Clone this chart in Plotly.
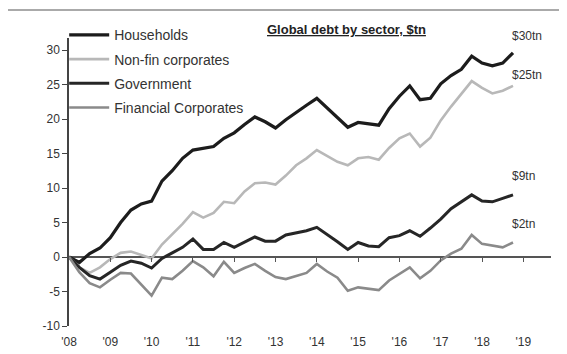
import plotly.graph_objects as go

# Quarterly points, 2008Q1 .. 2018Q4 (decimal years)
quarters = [2008 + i / 4 for i in range(44)]

households = [0, -0.8, 0.5, 1.3, 2.8, 5.0, 6.8, 7.7, 8.1, 11.0, 12.5, 14.3,
              15.5, 15.7, 16.0, 17.2, 18.0, 19.2, 20.3, 19.6, 18.7, 19.9, 21.0, 22.0,
              23.0, 21.6, 20.2, 18.8, 19.5, 19.3, 19.1, 21.5, 23.3, 24.8, 22.8, 23.0,
              25.1, 26.3, 27.2, 29.1, 28.1, 27.7, 28.1, 29.6]
nonfin_corporates = [0, -1.5, -2.3, -1.5, -0.3, 0.6, 0.8, 0.3, -0.2, 1.8, 3.3, 4.8,
                     6.5, 5.7, 6.4, 8.0, 7.8, 9.5, 10.7, 10.8, 10.5, 11.8, 13.3, 14.3,
                     15.5, 14.7, 13.8, 13.3, 14.3, 14.5, 14.1, 15.8, 17.2, 17.9, 16.0, 17.3,
                     19.8, 21.8, 23.7, 25.5, 24.5, 23.7, 24.1, 24.8]
government = [0, -1.5, -2.7, -3.2, -2.2, -1.2, -0.6, -0.9, -1.6, -0.2, 0.6, 1.4,
              2.6, 1.1, 1.1, 2.1, 1.4, 2.2, 2.9, 2.3, 2.3, 3.2, 3.5, 3.8,
              4.3, 3.3, 2.2, 1.1, 2.1, 1.6, 1.5, 2.8, 3.1, 3.8, 3.0, 4.2,
              5.5, 7.0, 8.0, 9.0, 8.1, 8.0, 8.5, 9.0]
financial_corporates = [0, -2.2, -3.8, -4.4, -3.3, -2.3, -2.4, -4.0, -5.6, -3.0, -3.2, -2.0,
                        -0.6, -1.5, -2.8, -0.7, -2.3, -1.6, -1.0, -2.0, -2.9, -3.2, -2.8, -2.3,
                        -1.0, -2.1, -3.0, -4.9, -4.4, -4.6, -4.8, -3.4, -2.4, -1.5, -3.1, -2.0,
                        -0.5, 0.5, 1.2, 3.2, 1.9, 1.6, 1.4, 2.1]

series_names = ["Households", "Non-fin corporates", "Government", "Financial Corporates"]
series_values = [households, nonfin_corporates, government, financial_corporates]
end_labels = ["$30tn", "$25tn", "$9tn", "$2tn"]

year_ticks = list(range(2008, 2020))
year_labels = ["'08", "'09", "'10", "'11", "'12", "'13", "'14", "'15", "'16", "'17", "'18", "'19"]
y_ticks = [-10, -5, 0, 5, 10, 15, 20, 25, 30]
y_labels = ["-10", "-5", "0", "5", "10", "15", "20", "25", "30"]

colors = ["#1c1c1c", "#b8b8b8", "#262626", "#8a8a8a"]
widths = [3.2, 2.6, 3.0, 2.6]

X_RANGE = [2008, 2019.67]
Y_RANGE = [-10, 31.74]
FONT = "Liberation Sans, Arial, sans-serif"

fig = go.Figure()
for name, vals, c, w in zip(series_names, series_values, colors, widths):
    fig.add_trace(go.Scatter(x=quarters, y=vals, name=name, mode="lines", legendgroup=name,
                             line=dict(color=c, width=w), hoverinfo="skip"))

# invisible trace to carry the tick marks along the zero line
fig.add_trace(go.Scatter(x=[quarters[0]], y=[0], xaxis="x2", mode="lines",
                         showlegend=False, hoverinfo="skip",
                         line=dict(color="rgba(0,0,0,0)")))

for vals, txt, ys in zip(series_values, end_labels, [8, 2, 10, 10]):
    fig.add_annotation(x=quarters[-1], y=vals[-1], text=txt, showarrow=False,
                       xanchor="left", yanchor="bottom", xshift=-3, yshift=ys,
                       font=dict(family=FONT, size=12, color="#333"))

fig.add_annotation(xref="paper", yref="paper", x=0.575, y=1.028,
                   text="<b><u>Global debt by sector, $tn</u></b>", showarrow=False,
                   xanchor="center", yanchor="middle",
                   font=dict(family=FONT, size=13, color="#222"))

zero_pos = (0 - Y_RANGE[0]) / (Y_RANGE[1] - Y_RANGE[0])

fig.update_layout(
    width=567, height=354,
    margin=dict(l=61, r=24, t=30, b=36, autoexpand=False),
    paper_bgcolor="white", plot_bgcolor="white",
    font=dict(family=FONT, size=12, color="#333"),
    showlegend=True,
    legend=dict(x=-0.01, y=1.065, xanchor="left", yanchor="top",
                bgcolor="rgba(0,0,0,0)", font=dict(family=FONT, size=14, color="#333"),
                itemwidth=40, tracegroupgap=3),
    xaxis=dict(range=X_RANGE, tickvals=year_ticks, ticktext=year_labels,
               showline=False, showgrid=False, zeroline=False, ticks="",
               ticklabelstandoff=7, tickfont=dict(size=12, color="#333")),
    xaxis2=dict(range=X_RANGE, overlaying="x", anchor="free", position=zero_pos,
                tickvals=year_ticks[1:], showticklabels=False, ticks="outside",
                ticklen=4, tickwidth=1.2, tickcolor="#555",
                showline=False, showgrid=False, zeroline=False),
    yaxis=dict(range=Y_RANGE, tickvals=y_ticks, ticktext=y_labels, showgrid=False,
               zeroline=True, zerolinecolor="#555", zerolinewidth=2,
               showline=True, linecolor="#444", linewidth=1.5,
               ticks="outside", ticklen=5, tickcolor="#444",
               tickfont=dict(size=12, color="#333")),
    shapes=[dict(type="line", xref="paper", yref="paper", x0=-0.2, x1=1.1,
                 y0=1.097, y1=1.097, line=dict(color="#aaa", width=2))],
)

fig.write_html("out.html")
